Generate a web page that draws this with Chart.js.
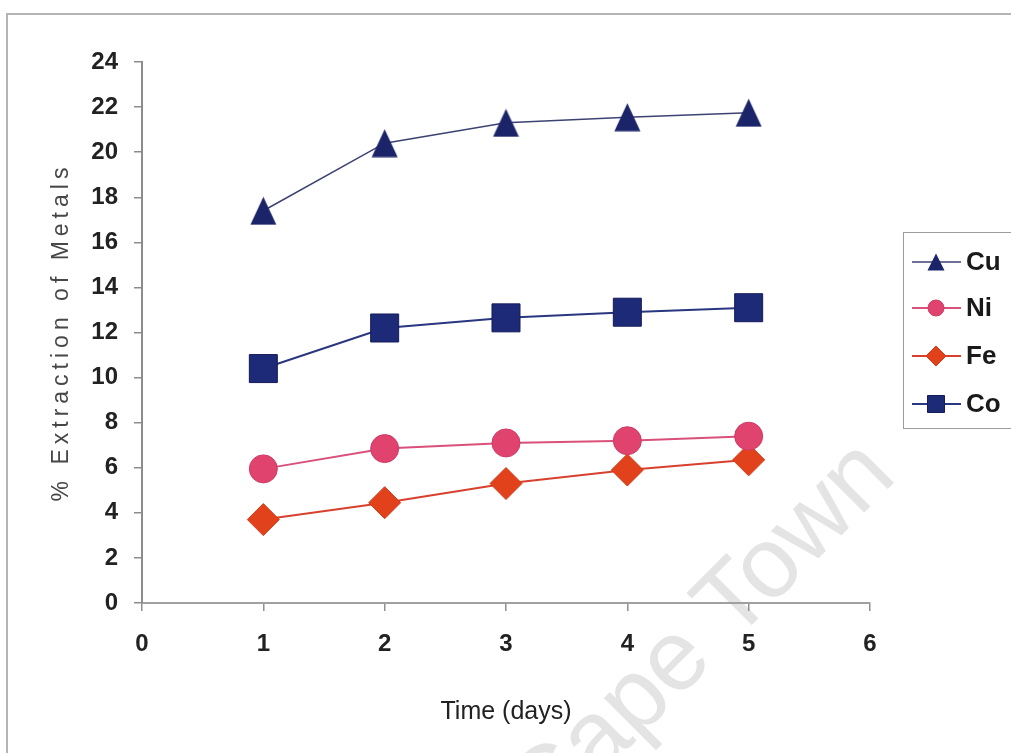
<!DOCTYPE html>
<html>
<head>
<meta charset="utf-8">
<script src="https://cdn.jsdelivr.net/npm/chart.js@4.4.0/dist/chart.umd.min.js"></script>
<style>
	html, body { margin: 0; padding: 0; background: #ffffff; overflow: hidden; }
	#wrap { position: relative; width: 1011px; height: 753px; }
	#frame { position: absolute; left: 6px; top: 13px; width: 1100px; height: 900px; border-left: 2px solid #b4b4b4; border-top: 2px solid #b4b4b4; }
	#mark { position: absolute; left: 698px; top: 630px; transform: translate(-50%, -50%) rotate(-45deg); font: 100px "Liberation Sans", Arial, sans-serif; color: #e4e4e4; white-space: nowrap; }
	#extraction { position: absolute; left: 0; top: 0; }
</style>
</head>
<body>
<div id="wrap">
	<div id="frame"></div>
	<div id="mark">Cape Town</div>
	<canvas id="extraction" width="1011" height="753"></canvas>
</div>
<script>
// % extraction of metals vs time

let days = [1, 2, 3, 4, 5];
let cu = [17.4, 20.4, 21.3, 21.55, 21.75];
let ni = [5.95, 6.85, 7.1, 7.2, 7.4];
let fe = [3.7, 4.45, 5.3, 5.9, 6.35];
let co = [10.4, 12.2, 12.65, 12.9, 13.1];
let metals = ['Cu', 'Ni', 'Fe', 'Co'];

let xTicks = [0, 1, 2, 3, 4, 5, 6];
let yTicks = [0, 2, 4, 6, 8, 10, 12, 14, 16, 18, 20, 22, 24];

let navy = '#1c2469';
let pink = '#e0436e';
let red = '#e2421b';

// excel style triangle: centred on its bounding box, not on the centroid
let makeTriangle = function(w, h, color) {
	let c = document.createElement('canvas');
	c.width = w;
	c.height = h;
	let g = c.getContext('2d');
	g.fillStyle = color;
	g.beginPath();
	g.moveTo(w / 2, 0.5);
	g.lineTo(w - 0.5, h - 0.5);
	g.lineTo(0.5, h - 0.5);
	g.closePath();
	g.fill();
	return c;
}

let bigTriangle = makeTriangle(27, 29, navy);
let smallTriangle = makeTriangle(18, 18, navy);

let toPoints = function(values) {
	let pts = [];
	for (let i = 0; i < days.length; i++) {
		pts.push({x: days[i], y: values[i]});
	}
	return pts;
}

let data_extraction = {
	datasets: [{
		label: metals[0],
		data: toPoints(cu),
		borderColor: '#3c4272',
		borderWidth: 1.5,
		pointStyle: bigTriangle,
		legendStyle: smallTriangle,
		legendRadius: 9,
		pointBackgroundColor: navy,
		pointBorderColor: navy
	},
	{
		label: metals[1],
		data: toPoints(ni),
		borderColor: '#d9507a',
		borderWidth: 2,
		pointStyle: 'circle',
		radius: 14,
		legendRadius: 8,
		pointBackgroundColor: pink,
		pointBorderColor: '#cf3a64',
		pointBorderWidth: 1
	},
	{
		label: metals[2],
		data: toPoints(fe),
		borderColor: '#d8402e',
		borderWidth: 2,
		pointStyle: 'rectRot',
		radius: 16,
		legendRadius: 10,
		pointBackgroundColor: red,
		pointBorderColor: '#d23a16',
		pointBorderWidth: 1
	},
	{
		label: metals[3],
		data: toPoints(co),
		borderColor: '#2a3680',
		borderWidth: 2,
		pointStyle: 'rect',
		radius: 19.8,
		legendRadius: 12,
		pointBackgroundColor: '#1d2a78',
		pointBorderColor: '#141c5a',
		pointBorderWidth: 1
	}]
};

// y title with the wide letter spacing of the original
let yTitlePlugin = {
	id: 'yTitle',
	afterDraw: function(chart) {
		let ctx = chart.ctx;
		let area = chart.chartArea;
		ctx.save();
		ctx.translate(62, (area.top + area.bottom) / 2 + 2);
		ctx.rotate(-Math.PI / 2);
		ctx.font = '23px "Liberation Sans", Arial, sans-serif';
		ctx.letterSpacing = '5px';
		ctx.fillStyle = '#474747';
		ctx.textAlign = 'center';
		ctx.textBaseline = 'middle';
		ctx.fillText('% Extraction of Metals', 2.5, 0);
		ctx.restore();
	}
};

// boxed legend on the right, cut by the picture edge
let legendPlugin = {
	id: 'boxLegend',
	afterDraw: function(chart) {
		let ctx = chart.ctx;
		let rowsY = [262, 308, 356, 404];
		ctx.save();
		ctx.strokeStyle = '#9c9c9c';
		ctx.lineWidth = 1;
		ctx.strokeRect(903.5, 232.5, 200, 196);
		chart.data.datasets.forEach(function(ds, i) {
			let y = rowsY[i];
			ctx.strokeStyle = ds.borderColor;
			ctx.lineWidth = ds.borderWidth;
			ctx.beginPath();
			ctx.moveTo(912, y);
			ctx.lineTo(961, y);
			ctx.stroke();
			ctx.fillStyle = ds.pointBackgroundColor;
			ctx.strokeStyle = ds.pointBorderColor;
			ctx.lineWidth = ds.pointBorderWidth || 0;
			Chart.helpers.drawPoint(ctx, {
				pointStyle: ds.legendStyle || ds.pointStyle,
				radius: ds.legendRadius,
				rotation: 0,
				borderWidth: ds.pointBorderWidth || 0
			}, 936, y);
			ctx.fillStyle = '#1a1a1a';
			ctx.font = 'bold 26px "Liberation Sans", Arial, sans-serif';
			ctx.textAlign = 'left';
			ctx.textBaseline = 'middle';
			ctx.fillText(ds.label, 966, y + 1);
		});
		ctx.restore();
	}
};

let ctx_extraction = document.getElementById('extraction').getContext('2d');

let extraction = new Chart(ctx_extraction, {
	type: 'line',
	data: data_extraction,
	plugins: [yTitlePlugin, legendPlugin],
	options: {
		responsive: false,
		devicePixelRatio: 1,
		animation: false,
		events: [],
		layout: {
			padding: {top: 62, right: 141, left: 0, bottom: 0}
		},
		plugins: {
			legend: {display: false},
			tooltip: {enabled: false}
		},
		elements: {
			line: {tension: 0}
		},
		scales: {
			x: {
				type: 'linear',
				min: xTicks[0],
				max: xTicks[xTicks.length - 1],
				afterFit: function(scale) { scale.height = 150; },
				afterBuildTicks: function(scale) { scale.ticks = xTicks.map(function(v) { return {value: v}; }); },
				border: {display: true, color: '#a0a0a0', width: 2},
				grid: {drawOnChartArea: false, drawTicks: true, tickLength: 8, color: '#909090', lineWidth: 1.5},
				ticks: {
					padding: 19,
					color: '#222222',
					font: {family: '"Liberation Sans", Arial, sans-serif', size: 24, weight: 'bold'}
				},
				title: {
					display: true,
					text: 'Time (days)',
					color: '#222222',
					padding: {top: 0, bottom: 26},
					font: {family: '"Liberation Sans", Arial, sans-serif', size: 25}
				}
			},
			y: {
				min: yTicks[0],
				max: yTicks[yTicks.length - 1],
				afterFit: function(scale) { scale.width = 142; },
				afterBuildTicks: function(scale) { scale.ticks = yTicks.map(function(v) { return {value: v}; }); },
				border: {display: true, color: '#8c8c8c', width: 2},
				grid: {drawOnChartArea: false, drawTicks: true, tickLength: 8, color: '#8c8c8c', lineWidth: 1.5},
				ticks: {
					padding: 16,
					color: '#222222',
					font: {family: '"Liberation Sans", Arial, sans-serif', size: 24, weight: 'bold'}
				}
			}
		}
	}
});
</script>
</body>
</html>
